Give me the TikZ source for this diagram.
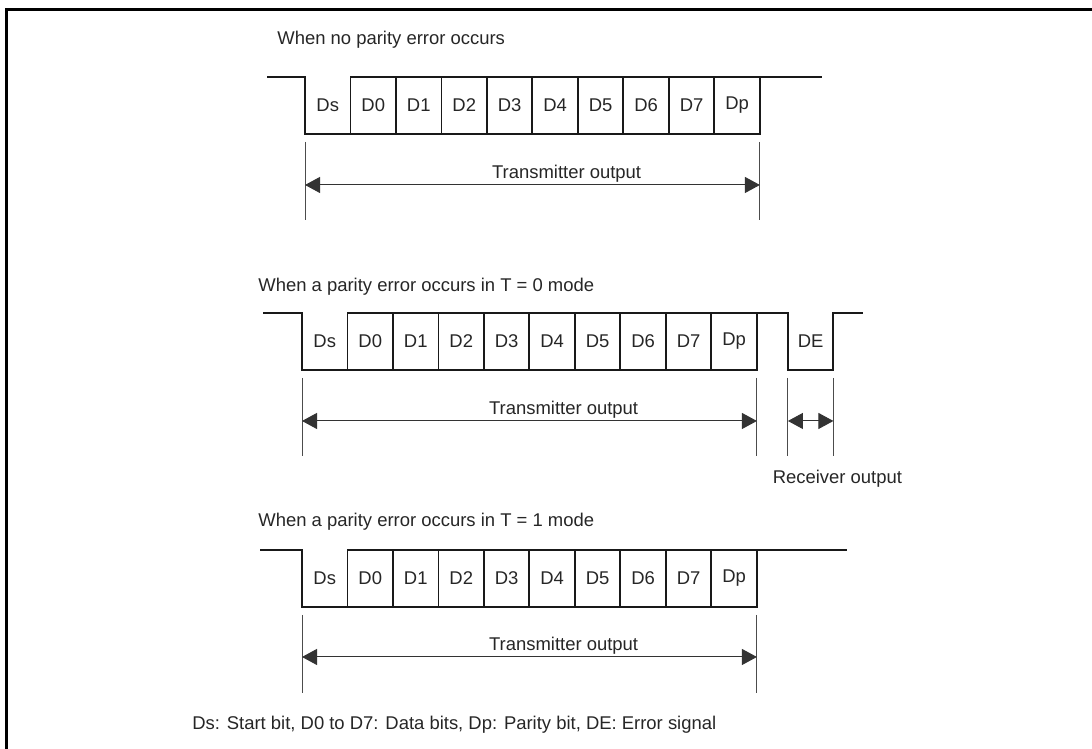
\documentclass[tikz,border=0pt]{standalone}
\usepackage{fontspec}
\setmainfont{Liberation Sans}
\usepackage{tikz}
\usetikzlibrary{arrows.meta, positioning}

\begin{document}
\begin{tikzpicture}[
    x=0.02cm, y=-0.02cm,
    every node/.style={font=\fontsize{10.5}{12}\selectfont, text=black!85},
    cell/.style={rectangle, draw=black!90, line width=1.1pt, minimum width=0.91cm,
                 minimum height=1.14cm, inner sep=0pt, outer sep=0pt},
    gap/.style={cell, draw=none},
    wave/.style={draw=black!90, line width=1.1pt, line join=miter},
    tick/.style={draw=black!70, line width=0.55pt},
    dim/.style={{Triangle[length=0.3cm,width=0.32cm]}-{Triangle[length=0.3cm,width=0.32cm]},
                draw=black!80, line width=0.55pt},
    ttl/.style={anchor=base west, inner sep=0pt},
    lbl/.style={above, inner sep=1pt, pos=0.575}
  ]

  \useasboundingbox (0,0) rectangle (1092,749);
  \draw[line width=1.4pt] (6.5,760) -- (6.5,9.5) -- (1100,9.5);

  %% Titles
  \node[ttl] (tA)   at (277,45)  {When no parity error occurs};
  \node[ttl] (tB)   at (258,292) {When a parity error occurs in T = 0 mode};
  \node[ttl] (tC)   at (258,527) {When a parity error occurs in T = 1 mode};
  \node[ttl] (note) at (192,729) {Ds: Start bit, D0 to D7: Data bits, Dp: Parity bit, DE: Error signal};

  %% No parity error
  \coordinate (sA) at (267,77);
  \node[gap, anchor=north west] (dsA) at (305,77) {Ds};
  \node[cell, right=0pt of dsA] (d0A) {D0};
  \node[cell, right=0pt of d0A] (d1A) {D1};
  \node[cell, right=0pt of d1A] (d2A) {D2};
  \node[cell, right=0pt of d2A] (d3A) {D3};
  \node[cell, right=0pt of d3A] (d4A) {D4};
  \node[cell, right=0pt of d4A] (d5A) {D5};
  \node[cell, right=0pt of d5A] (d6A) {D6};
  \node[cell, right=0pt of d6A] (d7A) {D7};
  \node[cell, right=0pt of d7A] (dpA) {Dp};
  \coordinate (eA) at (822,77);

  \draw[wave] (sA) -- (dsA.north west) -- (dsA.south west) -- (dsA.south east) -- (dsA.north east);
  \draw[wave] (dpA.north east) -- (eA);

  \draw[tick] (dsA.south west) ++(0,8) -- ++(0,78);
  \draw[tick] (dpA.south east) ++(0,8) -- ++(0,78);
  \coordinate (lA) at ([yshift=-1.02cm]dsA.south west);
  \coordinate (rA) at ([yshift=-1.02cm]dpA.south east);
  \draw[dim] (lA) -- node[lbl]{Transmitter output} (rA);

  %% T = 0 mode
  \coordinate (sB) at (263,313);
  \node[gap, anchor=north west] (dsB) at (302,313) {Ds};
  \node[cell, right=0pt of dsB] (d0B) {D0};
  \node[cell, right=0pt of d0B] (d1B) {D1};
  \node[cell, right=0pt of d1B] (d2B) {D2};
  \node[cell, right=0pt of d2B] (d3B) {D3};
  \node[cell, right=0pt of d3B] (d4B) {D4};
  \node[cell, right=0pt of d4B] (d5B) {D5};
  \node[cell, right=0pt of d5B] (d6B) {D6};
  \node[cell, right=0pt of d6B] (d7B) {D7};
  \node[cell, right=0pt of d7B] (dpB) {Dp};
  \node[gap, right=0.62cm of dpB] (deB) {DE};
  \coordinate (eB) at (863,313);

  \draw[wave] (sB) -- (dsB.north west) -- (dsB.south west) -- (dsB.south east) -- (dsB.north east);
  \draw[wave] (dpB.north east) -- (deB.north west) -- (deB.south west) -- (deB.south east)
              -- (deB.north east) -- (eB);

  \draw[tick] (dsB.south west) ++(0,8) -- ++(0,78);
  \draw[tick] (dpB.south east) ++(0,8) -- ++(0,78);
  \draw[tick] (deB.south west) ++(0,8) -- ++(0,78);
  \draw[tick] (deB.south east) ++(0,8) -- ++(0,78);
  \coordinate (lB) at ([yshift=-1.02cm]dsB.south west);
  \coordinate (rB) at ([yshift=-1.02cm]dpB.south east);
  \draw[dim] (lB) -- node[lbl]{Transmitter output} (rB);
  \coordinate (lE) at ([yshift=-1.02cm]deB.south west);
  \coordinate (rE) at ([yshift=-1.02cm]deB.south east);
  \draw[dim] (lE) -- (rE);
  \node[anchor=base, inner sep=0pt] (recv) at ([xshift=0.08cm, yshift=-2.28cm]deB.south east) {Receiver output};

  %% T = 1 mode
  \coordinate (sC) at (260,550);
  \node[gap, anchor=north west] (dsC) at (302,550) {Ds};
  \node[cell, right=0pt of dsC] (d0C) {D0};
  \node[cell, right=0pt of d0C] (d1C) {D1};
  \node[cell, right=0pt of d1C] (d2C) {D2};
  \node[cell, right=0pt of d2C] (d3C) {D3};
  \node[cell, right=0pt of d3C] (d4C) {D4};
  \node[cell, right=0pt of d4C] (d5C) {D5};
  \node[cell, right=0pt of d5C] (d6C) {D6};
  \node[cell, right=0pt of d6C] (d7C) {D7};
  \node[cell, right=0pt of d7C] (dpC) {Dp};
  \coordinate (eC) at (847,550);

  \draw[wave] (sC) -- (dsC.north west) -- (dsC.south west) -- (dsC.south east) -- (dsC.north east);
  \draw[wave] (dpC.north east) -- (eC);

  \draw[tick] (dsC.south west) ++(0,8) -- ++(0,78);
  \draw[tick] (dpC.south east) ++(0,8) -- ++(0,78);
  \coordinate (lC) at ([yshift=-1.0cm]dsC.south west);
  \coordinate (rC) at ([yshift=-1.0cm]dpC.south east);
  \draw[dim] (lC) -- node[lbl]{Transmitter output} (rC);

\end{tikzpicture}
\end{document}
